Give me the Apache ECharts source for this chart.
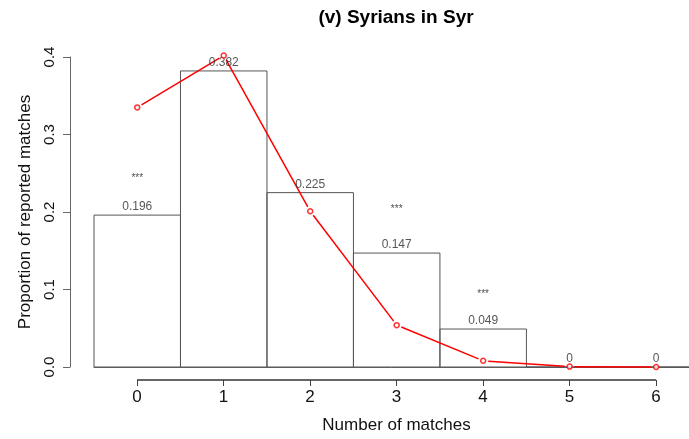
<!DOCTYPE html>
<html>
<head>
<meta charset="utf-8">
<script src="https://cdn.jsdelivr.net/npm/echarts@6/dist/echarts.min.js"></script>
<style>
  html, body { margin: 0; padding: 0; background: #fff; }
  #chart { width: 689px; height: 439px; }
</style>
</head>
<body>
<div id="chart"></div>
<script>
// number of matches
const matches = [0, 1, 2, 3, 4, 5, 6];
// observed proportions (bars)
const observed = [0.196, 0.382, 0.225, 0.147, 0.049, 0, 0];
// expected proportions (red line)
const expected = [0.335, 0.402, 0.201, 0.054, 0.008, 0.0005, 0];
// significance stars
const starX = [0, 3, 4];
const starY = [0.244, 0.204, 0.094];

const font = '"Liberation Sans", Arial, sans-serif';
const chart = echarts.init(document.getElementById('chart'));

const GAP = 5; // gap between line segments and the circles, like R type="b"
const AXIS_OFFSET = 14;

const option = {
  backgroundColor: '#fff',
  animation: false,
  title: {
    text: '(v) Syrians in Syr',
    left: 396,
    top: 8,
    textAlign: 'center',
    padding: 0,
    textStyle: { fontFamily: font, fontSize: 19, fontWeight: 'bold', color: '#000' }
  },
  grid: [
    { left: 94, right: 0, top: 57, bottom: 72 },
    { left: 137, right: 33, top: 57, bottom: 72 }
  ],
  xAxis: [
    {
      gridIndex: 0, type: 'value', min: -0.5, max: 6.38,
      axisLine: { show: true, onZero: false, lineStyle: { color: '#666', width: 1 } },
      axisTick: { show: false }, axisLabel: { show: false }, splitLine: { show: false }
    },
    {
      gridIndex: 1, type: 'value', min: 0, max: 6, interval: 1, offset: AXIS_OFFSET,
      name: 'Number of matches', nameLocation: 'middle', nameGap: 37,
      nameTextStyle: { fontFamily: font, fontSize: 17, color: '#111' },
      axisLine: { show: true, onZero: false, lineStyle: { color: 'rgba(0,0,0,0)', width: 1 } },
      axisTick: { show: true, length: 6, lineStyle: { color: '#444', width: 1 } },
      axisLabel: { fontFamily: font, fontSize: 17, color: '#111', margin: 9 },
      splitLine: { show: false }
    }
  ],
  yAxis: [
    {
      gridIndex: 0, type: 'value', min: 0, max: 0.4, interval: 0.1, offset: 24,
      name: 'Proportion of reported matches', nameLocation: 'middle', nameGap: 36,
      nameRotate: 90,
      nameTextStyle: { fontFamily: font, fontSize: 17, color: '#111' },
      axisLine: { show: true, onZero: false, lineStyle: { color: '#666', width: 1 } },
      axisTick: { show: true, length: 7, lineStyle: { color: '#666' } },
      axisLabel: {
        fontFamily: font, fontSize: 15, color: '#111', rotate: 90, margin: 13,
        formatter: v => v.toFixed(1)
      },
      splitLine: { show: false }
    },
    { gridIndex: 1, type: 'value', min: 0, max: 1, show: false }
  ],
  series: [
    {
      type: 'custom',
      xAxisIndex: 0, yAxisIndex: 0,
      clip: false,
      data: matches.map((m, i) => [m, observed[i]]),
      renderItem: (params, api) => {
        const x = api.value(0), y = api.value(1);
        const p0 = api.coord([x - 0.5, 0]);
        const p1 = api.coord([x + 0.5, y]);
        return {
          type: 'rect',
          shape: { x: p0[0], y: p1[1], width: p1[0] - p0[0], height: p0[1] - p1[1] },
          style: { fill: 'none', stroke: '#555', lineWidth: 1 }
        };
      }
    },
    {
      type: 'scatter',
      xAxisIndex: 0, yAxisIndex: 0,
      symbolSize: 0,
      data: matches.map((m, i) => [m, observed[i]]),
      label: {
        show: true, position: 'top', distance: 2,
        fontFamily: font, fontSize: 12, color: '#2b2b2b',
        formatter: p => String(p.value[1])
      }
    },
    {
      type: 'scatter',
      xAxisIndex: 0, yAxisIndex: 0,
      symbolSize: 0,
      data: starX.map((x, i) => [x, starY[i]]),
      label: {
        show: true, position: 'inside',
        fontFamily: font, fontSize: 10, color: '#222',
        formatter: '***'
      }
    },
    {
      type: 'custom',
      xAxisIndex: 0, yAxisIndex: 0,
      clip: false,
      data: matches.slice(0, -1).map((m, i) => [m, expected[i], matches[i + 1], expected[i + 1]]),
      renderItem: (params, api) => {
        const a = api.coord([api.value(0), api.value(1)]);
        const b = api.coord([api.value(2), api.value(3)]);
        const dx = b[0] - a[0], dy = b[1] - a[1];
        const len = Math.sqrt(dx * dx + dy * dy);
        const ux = dx / len, uy = dy / len;
        return {
          type: 'line',
          shape: { x1: a[0] + ux * GAP, y1: a[1] + uy * GAP, x2: b[0] - ux * GAP, y2: b[1] - uy * GAP },
          style: { stroke: '#ff0000', lineWidth: 1.5 }
        };
      }
    },
    {
      type: 'scatter',
      xAxisIndex: 0, yAxisIndex: 0,
      symbol: 'circle', symbolSize: 5,
      clip: false,
      itemStyle: { color: '#fff', borderColor: '#ff0000', borderWidth: 1.5 },
      data: matches.map((m, i) => [m, expected[i]]),
      z: 5
    }
  ]
};
chart.setOption(option);

// R-style x axis line running only from the first to the last tick
const left = chart.convertToPixel({ xAxisIndex: 1 }, matches[0]);
const right = chart.convertToPixel({ xAxisIndex: 1 }, matches[matches.length - 1]);
const base = chart.convertToPixel({ yAxisIndex: 1 }, 0);
const axisY = Math.round(base + AXIS_OFFSET);
chart.setOption({
  graphic: [{
    type: 'line',
    z: 100,
    shape: { x1: left, y1: axisY, x2: right, y2: axisY },
    style: { stroke: '#333', lineWidth: 1.5 }
  }]
});
</script>
</body>
</html>
